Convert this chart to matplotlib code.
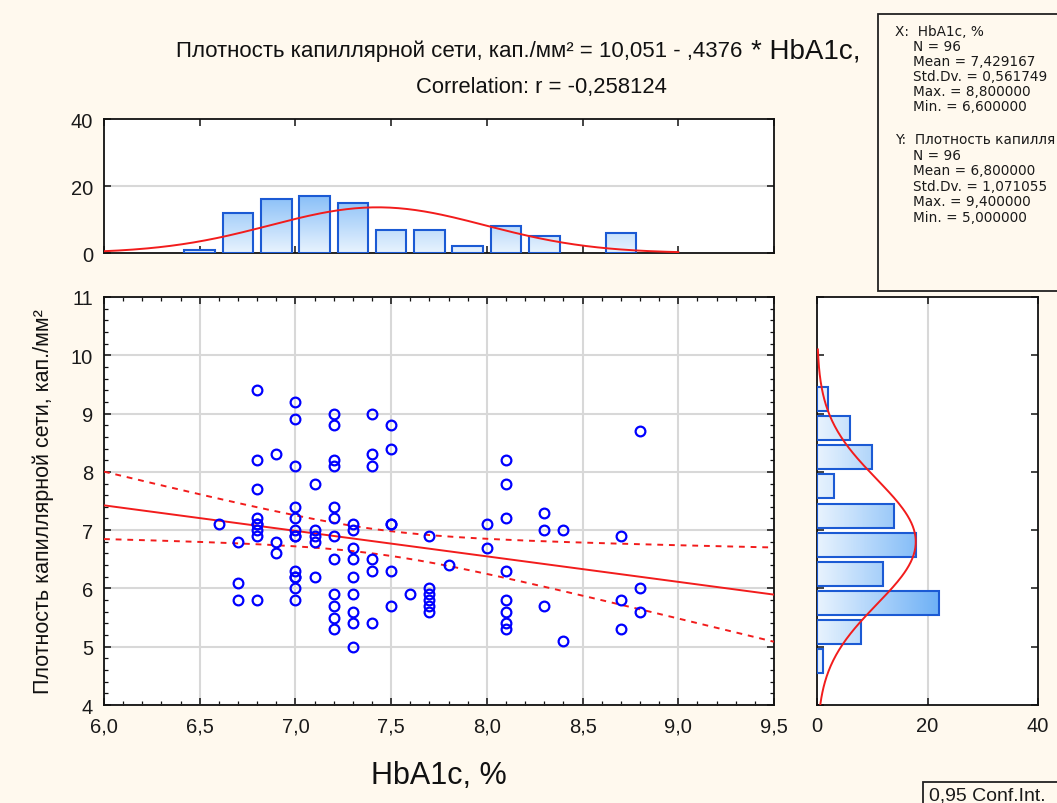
import numpy as np
import matplotlib
matplotlib.use("Agg")
import matplotlib.pyplot as plt
from matplotlib.colors import LinearSegmentedColormap
from matplotlib.patches import Rectangle
from matplotlib.ticker import MultipleLocator, FuncFormatter

plt.rcParams['font.family'] = ['Liberation Sans', 'DejaVu Sans']

# HbA1c values (x) and capillary density values (y), one entry per x level
x_levels = [6.6, 6.7, 6.8, 6.9, 7.0, 7.1, 7.2, 7.3, 7.4, 7.5, 7.6, 7.7, 7.8,
            8.0, 8.1, 8.3, 8.4, 8.7, 8.8]
y_by_x = [
    [7.1],
    [6.8, 6.1, 5.8],
    [9.4, 8.2, 7.7, 7.2, 7.1, 7.1, 7.0, 6.9, 5.8],
    [8.3, 6.8, 6.6],
    [9.2, 8.9, 8.1, 7.4, 7.2, 7.0, 6.9, 6.9, 6.3, 6.2, 6.2, 6.0, 5.8],
    [7.8, 7.0, 6.9, 6.8, 6.2],
    [9.0, 8.8, 8.2, 8.1, 7.4, 7.2, 6.9, 6.5, 5.9, 5.7, 5.5, 5.3],
    [7.1, 7.0, 6.7, 6.5, 6.2, 5.9, 5.6, 5.4, 5.0],
    [9.0, 8.3, 8.1, 6.5, 6.3, 5.4],
    [8.8, 8.4, 7.1, 7.1, 6.3, 5.7],
    [5.9],
    [6.9, 6.0, 5.9, 5.8, 5.7, 5.6],
    [6.4],
    [7.1, 6.7],
    [8.2, 7.8, 7.2, 6.3, 5.8, 5.6, 5.4, 5.3],
    [7.3, 7.0, 5.7],
    [7.0, 5.1],
    [6.9, 5.8, 5.3],
    [8.7, 6.0, 5.6],
]

# marginal histogram of HbA1c (bin centres, counts)
hx_centers = [6.5, 6.7, 6.9, 7.1, 7.3, 7.5, 7.7, 7.9, 8.1, 8.3, 8.5, 8.7]
hx_counts = [1, 12, 16, 17, 15, 7, 7, 2, 8, 5, 0, 6]
# marginal histogram of capillary density
hy_centers = [9.25, 8.75, 8.25, 7.75, 7.25, 6.75, 6.25, 5.75, 5.25, 4.75]
hy_counts = [2, 6, 10, 3, 14, 18, 12, 22, 8, 1]

# regression from the chart header
intercept = 10.051
slope = -0.4376
x_mean, x_sd = 7.429167, 0.561749
y_mean, y_sd = 6.800000, 1.071055
n_obs = 96
t_crit = 1.9855

xs = np.concatenate([[xv] * len(ys) for xv, ys in zip(x_levels, y_by_x)])
ys = np.concatenate(y_by_x)

W, H = 1057, 804
fig = plt.figure(figsize=(W / 100, H / 100), dpi=100)
bg = '#fff9ee'
fig.patch.set_facecolor(bg)


def px_box(left, top, right, bottom):
    return [left / W, 1 - bottom / H, (right - left) / W, (bottom - top) / H]


ax = fig.add_axes(px_box(104, 298, 774, 706))
axt = fig.add_axes(px_box(104, 120, 774, 254))
axr = fig.add_axes(px_box(817, 298, 1038, 706))

grid_c = '#d8d8d8'
edge_c = '#1b5ad4'
red = '#f21c1c'
tick_c = '#1a1a1a'
bar_cmap = LinearSegmentedColormap.from_list('bars', ['#e8f3fe', '#5ea8f5'])

for a in (ax, axt, axr):
    for s in a.spines.values():
        s.set_linewidth(1.3)
        s.set_color('#111111')
    a.tick_params(which='both', direction='in', top=True, right=True,
                  colors='#111111', labelcolor=tick_c, labelsize=14.5)
    a.tick_params(which='major', length=5, width=1.1)
    a.tick_params(which='minor', length=3, width=0.9)

# ---- scatter ----
comma = FuncFormatter(lambda v, p: ('%.1f' % v).replace('.', ','))
ax.set_xlim(6.0, 9.5)
ax.set_ylim(4, 11)
ax.xaxis.set_major_locator(MultipleLocator(0.5))
ax.xaxis.set_minor_locator(MultipleLocator(0.1))
ax.yaxis.set_major_locator(MultipleLocator(1))
ax.yaxis.set_minor_locator(MultipleLocator(0.2))
ax.xaxis.set_major_formatter(comma)
ax.grid(True, which='major', color=grid_c, lw=1.5, zorder=0)
ax.set_axisbelow(True)
ax.tick_params(axis='x', pad=8)
ax.tick_params(axis='y', pad=8)

xl = np.linspace(6.0, 9.5, 200)
yl = intercept + slope * xl
resid = ys - (intercept + slope * xs)
s_res = np.sqrt(np.sum(resid ** 2) / (n_obs - 2))
sxx = (n_obs - 1) * x_sd ** 2
half = t_crit * s_res * np.sqrt(1 / n_obs + (xl - x_mean) ** 2 / sxx)
ax.plot(xl, yl, color=red, lw=1.4, zorder=3)
ax.plot(xl, yl + half, color=red, lw=1.4, ls=(0, (3, 3)), zorder=3)
ax.plot(xl, yl - half, color=red, lw=1.4, ls=(0, (3, 3)), zorder=3)
ax.plot(xs, ys, 'o', ms=7, mfc='none', mec='#0000ff', mew=1.6, zorder=4)

ax.set_xlabel('HbA1c, %', fontsize=22, labelpad=18, color='#111111')
ax.set_ylabel('Плотность капиллярной сети, кап./мм²', fontsize=15.5,
              labelpad=12, color='#111111')

vmax = 25.0

# ---- top histogram ----
axt.set_xlim(6.0, 9.5)
axt.set_ylim(0, 40)
axt.xaxis.set_major_locator(MultipleLocator(0.5))
axt.set_yticks([0, 20, 40])
axt.tick_params(axis='x', labelbottom=False)
axt.tick_params(axis='y', pad=8)
axt.axhline(20, color=grid_c, lw=1.5, zorder=0)
bw = 0.16
for c, h in zip(hx_centers, hx_counts):
    if h <= 0:
        continue
    rect = axt.bar(c, h, bw, facecolor='none', edgecolor=edge_c, lw=1.5, zorder=3)[0]
    g = np.linspace(0, h / vmax, 64).reshape(-1, 1)
    im = axt.imshow(g, cmap=bar_cmap, vmin=0, vmax=1, origin='lower',
                    extent=(c - bw / 2, c + bw / 2, 0, h), aspect='auto', zorder=2)
    im.set_clip_path(rect)
gx = np.linspace(6.0, 9.0, 200)
gy = n_obs * 0.2 * np.exp(-0.5 * ((gx - x_mean) / x_sd) ** 2) / (x_sd * np.sqrt(2 * np.pi))
axt.plot(gx, gy, color=red, lw=1.4, zorder=4)
axt.set_xlim(6.0, 9.5)
axt.set_ylim(0, 40)

# ---- right histogram ----
axr.set_xlim(0, 40)
axr.set_ylim(4, 11)
axr.set_xticks([0, 20, 40])
axr.yaxis.set_major_locator(MultipleLocator(1))
axr.tick_params(axis='y', labelleft=False)
axr.tick_params(axis='x', pad=8)
axr.axvline(20, color=grid_c, lw=1.5, zorder=0)
bh = 0.41
for c, h in zip(hy_centers, hy_counts):
    if h <= 0:
        continue
    rect = axr.barh(c, h, bh, facecolor='none', edgecolor=edge_c, lw=1.5, zorder=3)[0]
    g = np.linspace(0, h / vmax, 64).reshape(1, -1)
    im = axr.imshow(g, cmap=bar_cmap, vmin=0, vmax=1, origin='lower',
                    extent=(0, h, c - bh / 2, c + bh / 2), aspect='auto', zorder=2)
    im.set_clip_path(rect)
gy2 = np.linspace(4.0, 10.1, 200)
gx2 = n_obs * 0.5 * np.exp(-0.5 * ((gy2 - y_mean) / y_sd) ** 2) / (y_sd * np.sqrt(2 * np.pi))
axr.plot(gx2, gy2, color=red, lw=1.4, zorder=4)
axr.set_xlim(0, 40)
axr.set_ylim(4, 11)

# ---- header ----
fig.text(742 / W, 1 - 57 / H, 'Плотность капиллярной сети, кап./мм² = 10,051 - ,4376',
         fontsize=16, ha='right', va='baseline', color='#111111')
fig.text(751 / W, 1 - 58 / H, '* HbA1c,', fontsize=20, ha='left', va='baseline',
         color='#111111')
fig.text(541 / W, 1 - 93 / H, 'Correlation: r = -0,258124', fontsize=15.8,
         ha='center', va='baseline', color='#111111')

# ---- statistics box ----
fig.patches.append(Rectangle((878 / W, 1 - 292 / H), 200 / W, 277 / H,
                             transform=fig.transFigure, facecolor=bg,
                             edgecolor='#222222', lw=1.3))
stats_x = ['X:  HbA1c, %', 'N = 96', 'Mean = 7,429167', 'Std.Dv. = 0,561749',
           'Max. = 8,800000', 'Min. = 6,600000']
stats_y = ['Y:  Плотность капилля', 'N = 96', 'Mean = 6,800000',
           'Std.Dv. = 1,071055', 'Max. = 9,400000', 'Min. = 5,000000']
for block, y0, dy in ((stats_x, 36, 15), (stats_y, 144, 15.6)):
    for i, line in enumerate(block):
        xpos = 895 if i == 0 else 913
        fig.text(xpos / W, 1 - (y0 + i * dy) / H, line, fontsize=9.8,
                 family=['DejaVu Sans'], ha='left', va='baseline', color='#1a1a1a')

# ---- conf. int. box ----
fig.patches.append(Rectangle((923 / W, 1 - 815 / H), 150 / W, 32 / H,
                             transform=fig.transFigure, facecolor=bg,
                             edgecolor='#222222', lw=1.3))
fig.text(929 / W, 1 - 801 / H, '0,95 Conf.Int.', fontsize=14, ha='left',
         va='baseline', color='#1a1a1a')

fig.savefig('out.png', dpi=100, facecolor=bg)
